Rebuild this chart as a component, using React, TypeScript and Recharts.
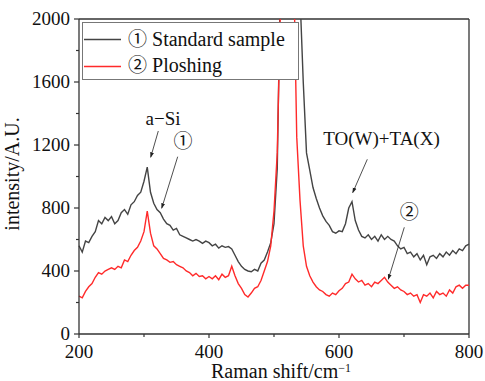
import React from "react";
import { LineChart, Line, XAxis, YAxis, ReferenceLine } from "recharts";

// Raman shift grid, 200–800 cm^-1 sampled every 5
const shifts = Array.from({ length: 121 }, (_, i) => 200 + i * 5);

// ① standard sample
const standard = [
  560, 520, 590, 580, 620, 650, 720, 700, 740, 720, 745, 700, 720, 770, 790, 760, 820, 840, 880, 900,
  970, 1060, 900, 830, 790, 770, 730, 700, 690, 660, 670, 630, 620, 610, 600, 590, 600, 590, 575, 590,
  580, 560, 570, 545, 560, 550, 555, 540, 500, 460, 430, 410, 400, 395, 410, 400, 450, 470, 520, 580,
  700, 1050, 2300, 4000, 4500, 4500, 4000, 3000, 2150, 1600, 1150, 1040, 930, 860, 800, 750, 715, 690, 650, 640,
  655, 650, 700, 800, 840, 720, 660, 620, 610, 630, 600, 620, 590, 630, 600, 620, 600, 590, 560, 540,
  550, 510, 520, 490, 510, 470, 500, 440, 490, 500, 480, 510, 490, 520, 500, 530, 510, 540, 530, 560,
  570,
];

// ② ploshing
const ploshing = [
  240, 230, 270, 300, 320, 360, 390, 380, 400, 410, 420, 410, 430, 420, 470, 460, 500, 530, 550, 590,
  650, 780, 640, 560, 540, 510, 480, 470, 455, 460, 440, 430, 420, 400, 390, 370, 385, 365, 370, 350,
  365, 350, 370, 345, 380, 360, 370, 430, 370, 320, 290, 250, 235, 260, 290, 300, 340, 400, 460, 560,
  780, 1150, 2100, 4500, 5000, 4500, 2400, 1250, 850, 560, 430, 370, 330, 300, 280, 270, 250, 240, 260, 250,
  275, 290, 320, 330, 380, 350, 330, 340, 310, 320, 300, 330, 320, 340, 360, 330, 310, 290, 300, 280,
  270, 250, 260, 240, 250, 200, 250, 240, 260, 230, 270, 250, 260, 240, 280, 260, 300, 310, 290, 310,
  310,
];

const xTicks = [200, 300, 400, 500, 600, 700, 800];
const xLabels = [200, 400, 600, 800];
const yTicks = [0, 200, 400, 600, 800, 1000, 1200, 1400, 1600, 1800, 2000];
const yLabels = [0, 400, 800, 1200, 1600, 2000];

const data = shifts.map((s, i) => ({ shift: s, standard: standard[i], ploshing: ploshing[i] }));

const FONT = "Liberation Serif, DejaVu Serif, serif";
const CIRC = "Noto Sans CJK JP, DejaVu Sans, sans-serif";
const AXIS = "#333";

const XTick = (props: any) => {
  const { x, y, payload } = props;
  const major = xLabels.includes(payload.value);
  return (
    <g>
      <line x1={x} y1={y} x2={x} y2={y + (major ? 4 : 3)} stroke={AXIS} strokeWidth={1.2} />
      {major && (
        <text x={x} y={y + 24} textAnchor="middle" fontSize={19} fontFamily={FONT} fill="#111">
          {payload.value}
        </text>
      )}
    </g>
  );
};

const YTick = (props: any) => {
  const { x, y, payload } = props;
  const major = yLabels.includes(payload.value);
  return (
    <g>
      <line x1={x} y1={y} x2={x - (major ? 5 : 3)} y2={y} stroke={AXIS} strokeWidth={1.2} />
      {major && (
        <text x={x - 9} y={y + 6} textAnchor="end" fontSize={19} fontFamily={FONT} fill="#111">
          {payload.value}
        </text>
      )}
    </g>
  );
};

export default function App() {
  return (
    <div style={{ position: "absolute", left: 0, top: 0, width: 485, height: 381, background: "#fff" }}>
      <LineChart width={485} height={381} data={data} margin={{ top: 19, right: 16, bottom: 0, left: 0 }}>
        <XAxis
          dataKey="shift"
          type="number"
          domain={[200, 800]}
          ticks={xTicks}
          interval={0}
          tickSize={0}
          tickMargin={0}
          tickLine={false}
          tick={<XTick />}
          height={47}
          axisLine={{ stroke: AXIS, strokeWidth: 1.3 }}
        />
        <YAxis
          type="number"
          domain={[0, 2000]}
          allowDataOverflow
          ticks={yTicks}
          interval={0}
          tickSize={0}
          tickMargin={0}
          tickLine={false}
          tick={<YTick />}
          width={79}
          axisLine={{ stroke: AXIS, strokeWidth: 1.3 }}
        />
        <ReferenceLine y={2000} stroke={AXIS} strokeWidth={1.3} />
        <ReferenceLine x={800} stroke={AXIS} strokeWidth={1.3} />
        <Line dataKey="standard" stroke="#444" strokeWidth={1.4} dot={false} isAnimationActive={false} />
        <Line dataKey="ploshing" stroke="#ff2a2a" strokeWidth={1.4} dot={false} isAnimationActive={false} />
      </LineChart>

      <svg
        width={485}
        height={381}
        style={{ position: "absolute", left: 0, top: 0, pointerEvents: "none", fontFamily: FONT }}
      >
        <defs>
          <marker id="arr" viewBox="0 0 10 10" refX="9" refY="5" markerWidth="7" markerHeight="7" orient="auto">
            <path d="M0,1.5 L10,5 L0,8.5 z" fill="#222" />
          </marker>
        </defs>

        {/* legend */}
        <rect x={82.5} y={22.5} width={216} height={57} fill="#fff" stroke="#777" strokeWidth={1} />
        <line x1={84} y1={39.5} x2={121} y2={39.5} stroke="#444" strokeWidth={1.4} />
        <line x1={84} y1={66.5} x2={121} y2={66.5} stroke="#ff2a2a" strokeWidth={1.4} />
        <text x={128} y={46} fontSize={20} fill="#111">
          <tspan fontFamily={CIRC} fontSize={19}>①</tspan> Standard sample
        </text>
        <text x={128} y={72} fontSize={20} fill="#111">
          <tspan fontFamily={CIRC} fontSize={19}>②</tspan> Ploshing
        </text>

        {/* axis titles */}
        <text x={281} y={378} textAnchor="middle" fontSize={20} fill="#111">
          Raman shift/cm<tspan dy={-6} fontSize={12}>−1</tspan>
        </text>
        <text x={19} y={174} textAnchor="middle" fontSize={20} fill="#111" transform="rotate(-90 19 174)">
          intensity/A.U.
        </text>

        {/* annotations */}
        <text x={163} y={125} textAnchor="middle" fontSize={19} fill="#111">a−Si</text>
        <line x1={158.3} y1={131} x2={150.7} y2={157.3} stroke="#222" strokeWidth={0.8} markerEnd="url(#arr)" />
        <text x={183} y={148} textAnchor="middle" fontSize={19} fill="#111" fontFamily={CIRC}>①</text>
        <line x1={177.7} y1={156.7} x2={161.7} y2={208.3} stroke="#222" strokeWidth={0.8} markerEnd="url(#arr)" />

        <text x={381.5} y={145} textAnchor="middle" fontSize={19} fill="#111">TO(W)+TA(X)</text>
        <line x1={367.3} y1={159.3} x2={352.7} y2={192.7} stroke="#222" strokeWidth={0.8} markerEnd="url(#arr)" />
        <text x={409.3} y={219} textAnchor="middle" fontSize={19} fill="#111" fontFamily={CIRC}>②</text>
        <line x1={404.3} y1={227.3} x2={388.3} y2={279.3} stroke="#222" strokeWidth={0.8} markerEnd="url(#arr)" />
      </svg>
    </div>
  );
}
